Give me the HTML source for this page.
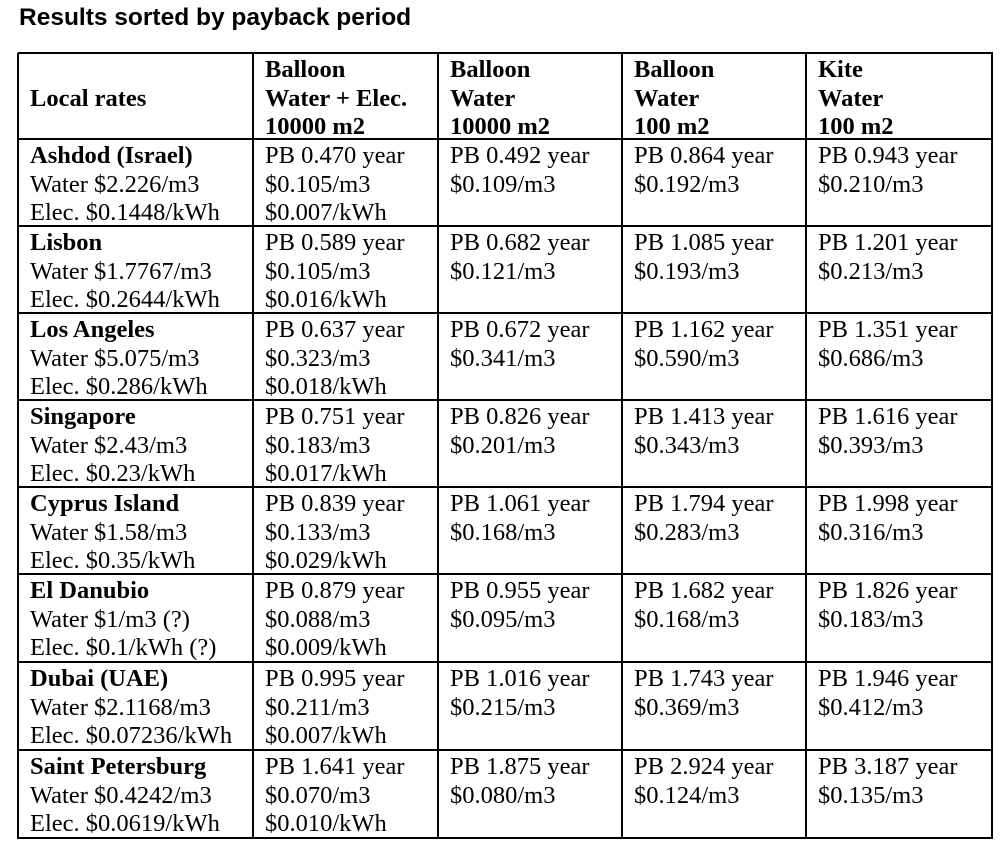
<!DOCTYPE html>
<html><head><style>
body{margin:0;width:1003px;height:846px;background:#fff;position:relative;overflow:hidden}
.t{position:absolute;left:19px;top:4px;font:bold 24.5px "Liberation Sans",sans-serif;color:#000}
.h{position:absolute;background:#000;height:2px}
.v{position:absolute;background:#000;width:2px;top:53px;height:786px}
.c{position:absolute;font:24.5px/28.7px "Liberation Serif",serif;color:#000;white-space:nowrap;margin-top:2px}
b{font-weight:bold}
</style></head><body>
<div class="t">Results sorted by payback period</div>
<div class="h" style="left:18px;width:975px;top:52px"></div>
<div class="h" style="left:18px;width:975px;top:138px"></div>
<div class="h" style="left:18px;width:975px;top:225px"></div>
<div class="h" style="left:18px;width:975px;top:312px"></div>
<div class="h" style="left:18px;width:975px;top:399px"></div>
<div class="h" style="left:18px;width:975px;top:486px"></div>
<div class="h" style="left:18px;width:975px;top:573px"></div>
<div class="h" style="left:18px;width:975px;top:661px"></div>
<div class="h" style="left:18px;width:975px;top:749px"></div>
<div class="h" style="left:18px;width:975px;top:837px"></div>
<div class="v" style="left:17px"></div>
<div class="v" style="left:252px"></div>
<div class="v" style="left:437px"></div>
<div class="v" style="left:621px"></div>
<div class="v" style="left:805px"></div>
<div class="v" style="left:991px"></div>

<div class="c" style="left:30px;top:83px"><b>Local rates</b></div>
<div class="c" style="left:265px;top:54px"><b>Balloon<br>Water + Elec.<br>10000 m2</b></div>
<div class="c" style="left:450px;top:54px"><b>Balloon<br>Water<br>10000 m2</b></div>
<div class="c" style="left:634px;top:54px"><b>Balloon<br>Water<br>100 m2</b></div>
<div class="c" style="left:818px;top:54px"><b>Kite<br>Water<br>100 m2</b></div>

<div class="c" style="left:30px;top:140px"><b>Ashdod (Israel)</b><br>Water $2.226/m3<br>Elec. $0.1448/kWh</div>
<div class="c" style="left:265px;top:140px">PB 0.470 year<br>$0.105/m3<br>$0.007/kWh</div>
<div class="c" style="left:450px;top:140px">PB 0.492 year<br>$0.109/m3</div>
<div class="c" style="left:634px;top:140px">PB 0.864 year<br>$0.192/m3</div>
<div class="c" style="left:818px;top:140px">PB 0.943 year<br>$0.210/m3</div>

<div class="c" style="left:30px;top:227px"><b>Lisbon</b><br>Water $1.7767/m3<br>Elec. $0.2644/kWh</div>
<div class="c" style="left:265px;top:227px">PB 0.589 year<br>$0.105/m3<br>$0.016/kWh</div>
<div class="c" style="left:450px;top:227px">PB 0.682 year<br>$0.121/m3</div>
<div class="c" style="left:634px;top:227px">PB 1.085 year<br>$0.193/m3</div>
<div class="c" style="left:818px;top:227px">PB 1.201 year<br>$0.213/m3</div>

<div class="c" style="left:30px;top:314px"><b>Los Angeles</b><br>Water $5.075/m3<br>Elec. $0.286/kWh</div>
<div class="c" style="left:265px;top:314px">PB 0.637 year<br>$0.323/m3<br>$0.018/kWh</div>
<div class="c" style="left:450px;top:314px">PB 0.672 year<br>$0.341/m3</div>
<div class="c" style="left:634px;top:314px">PB 1.162 year<br>$0.590/m3</div>
<div class="c" style="left:818px;top:314px">PB 1.351 year<br>$0.686/m3</div>

<div class="c" style="left:30px;top:401px"><b>Singapore</b><br>Water $2.43/m3<br>Elec. $0.23/kWh</div>
<div class="c" style="left:265px;top:401px">PB 0.751 year<br>$0.183/m3<br>$0.017/kWh</div>
<div class="c" style="left:450px;top:401px">PB 0.826 year<br>$0.201/m3</div>
<div class="c" style="left:634px;top:401px">PB 1.413 year<br>$0.343/m3</div>
<div class="c" style="left:818px;top:401px">PB 1.616 year<br>$0.393/m3</div>

<div class="c" style="left:30px;top:488px"><b>Cyprus Island</b><br>Water $1.58/m3<br>Elec. $0.35/kWh</div>
<div class="c" style="left:265px;top:488px">PB 0.839 year<br>$0.133/m3<br>$0.029/kWh</div>
<div class="c" style="left:450px;top:488px">PB 1.061 year<br>$0.168/m3</div>
<div class="c" style="left:634px;top:488px">PB 1.794 year<br>$0.283/m3</div>
<div class="c" style="left:818px;top:488px">PB 1.998 year<br>$0.316/m3</div>

<div class="c" style="left:30px;top:575px"><b>El Danubio</b><br>Water $1/m3 (?)<br>Elec. $0.1/kWh (?)</div>
<div class="c" style="left:265px;top:575px">PB 0.879 year<br>$0.088/m3<br>$0.009/kWh</div>
<div class="c" style="left:450px;top:575px">PB 0.955 year<br>$0.095/m3</div>
<div class="c" style="left:634px;top:575px">PB 1.682 year<br>$0.168/m3</div>
<div class="c" style="left:818px;top:575px">PB 1.826 year<br>$0.183/m3</div>

<div class="c" style="left:30px;top:663px"><b>Dubai (UAE)</b><br>Water $2.1168/m3<br>Elec. $0.07236/kWh</div>
<div class="c" style="left:265px;top:663px">PB 0.995 year<br>$0.211/m3<br>$0.007/kWh</div>
<div class="c" style="left:450px;top:663px">PB 1.016 year<br>$0.215/m3</div>
<div class="c" style="left:634px;top:663px">PB 1.743 year<br>$0.369/m3</div>
<div class="c" style="left:818px;top:663px">PB 1.946 year<br>$0.412/m3</div>

<div class="c" style="left:30px;top:751px"><b>Saint Petersburg</b><br>Water $0.4242/m3<br>Elec. $0.0619/kWh</div>
<div class="c" style="left:265px;top:751px">PB 1.641 year<br>$0.070/m3<br>$0.010/kWh</div>
<div class="c" style="left:450px;top:751px">PB 1.875 year<br>$0.080/m3</div>
<div class="c" style="left:634px;top:751px">PB 2.924 year<br>$0.124/m3</div>
<div class="c" style="left:818px;top:751px">PB 3.187 year<br>$0.135/m3</div>
</body></html>
